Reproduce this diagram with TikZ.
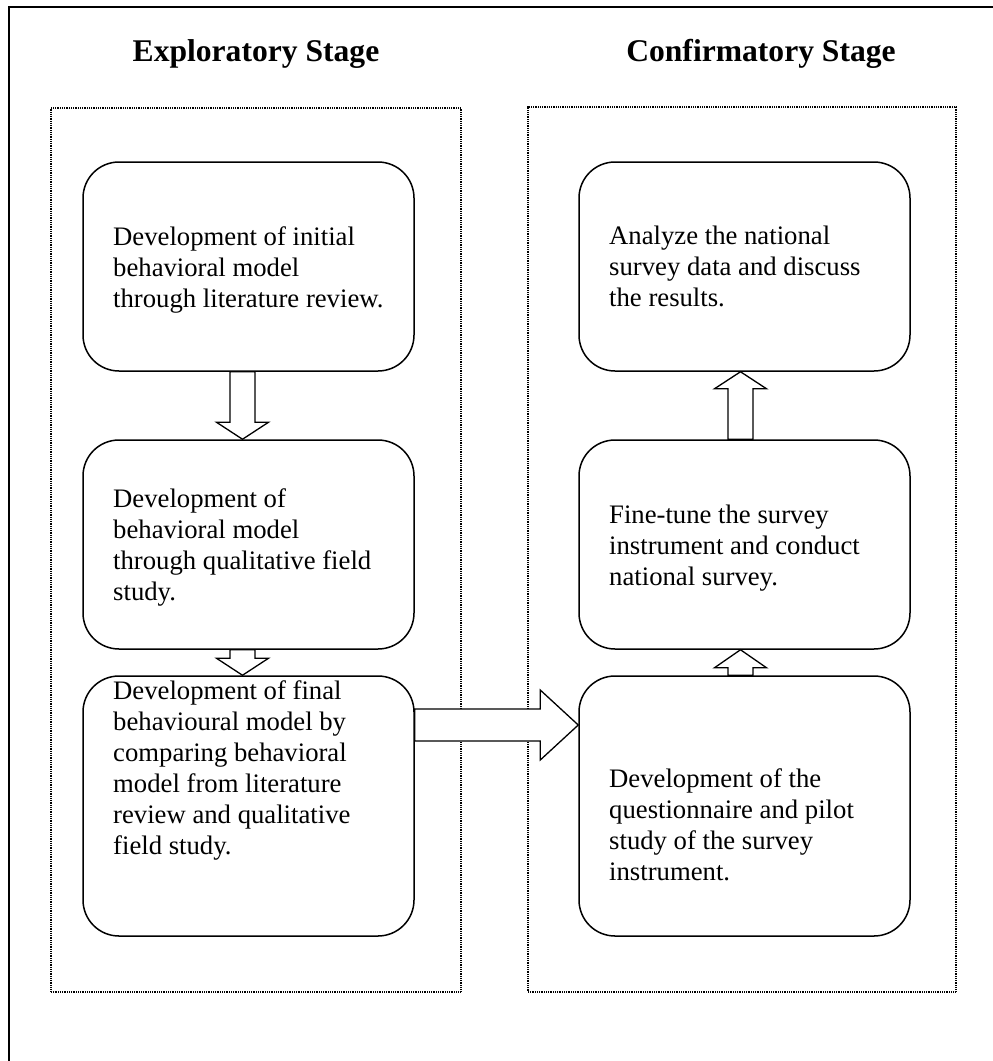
\documentclass[tikz,border=0pt]{standalone}
\usepackage{fontspec}
\setmainfont{Liberation Serif}
\usetikzlibrary{calc}

% vertical block arrow: #1 source anchor, #2 tip anchor, #3 x shift, #4 signed head length
\newcommand{\vblockarrow}[4]{%
  \draw[blockarrow] let \p1=($(#1)+(#3,0)$), \p2=($(#2)+(#3,0)$) in
    (\x1-12.5pt,\y1) -- (\x1-12.5pt,\y2+#4) -- (\x1-26pt,\y2+#4) -- (\x2,\y2)
    -- (\x1+26pt,\y2+#4) -- (\x1+12.5pt,\y2+#4) -- (\x1+12.5pt,\y1) -- cycle;}

\begin{document}
\begin{tikzpicture}[x=1pt,y=-1pt,
  stagebox/.style={draw, dash pattern=on 1pt off 0.8pt, line width=1.3pt, inner sep=0pt},
  stepbox/.style={draw, line width=1.5pt, rounded corners=36pt, inner sep=0pt,
    minimum width=331pt},
  steptext/.style={anchor=north west, inner sep=0pt, align=left,
    font=\fontsize{26.7}{31}\selectfont},
  stagetitle/.style={anchor=base, inner sep=0pt,
    font=\bfseries\fontsize{31.6}{36}\selectfont},
  blockarrow/.style={draw, fill=white, line width=1.3pt, line join=miter}]

\useasboundingbox (0,0) rectangle (993,1061);

% outer frame (top and left edges)
\draw[line width=1.8pt] (9,1061) -- (9,7) -- (993,7);

% stage headings
\node[stagetitle] (titleL) at (256,61) {Exploratory Stage};
\node[stagetitle] (titleR) at (761,61) {Confirmatory Stage};

% dotted stage frames
\node[stagebox, minimum width=410pt, minimum height=884pt] (stageL) at (256,550) {};
\node[stagebox, minimum width=428pt, minimum height=885pt] (stageR) at (742,549.5) {};

% exploratory steps
\node[stepbox, minimum height=209pt] (L1) at (248.5,266.5) {};
\node[stepbox, minimum height=209pt] (L2) at (248.5,544.5) {};
\node[stepbox, minimum height=260pt] (L3) at (248.5,806) {};

% confirmatory steps
\node[stepbox, minimum height=209pt] (R1) at (744.5,266.5) {};
\node[stepbox, minimum height=209pt] (R2) at (744.5,544.5) {};
\node[stepbox, minimum height=260pt] (R3) at (744.5,806) {};

% step texts
\node[steptext] (tL1) at (113,226) {Development of initial\\behavioral model\\through literature review.};
\node[steptext] (tL2) at (113,488) {Development of\\behavioral model\\through qualitative field\\study.};
\node[steptext] (tL3) at (113,680) {Development of final\\behavioural model by\\comparing behavioral\\model from literature\\review and qualitative\\field study.};
\node[steptext] (tR1) at (609,226) {Analyze the national\\survey data and discuss\\the results.};
\node[steptext] (tR2) at (609,505) {Fine-tune the survey\\instrument and conduct\\national survey.};
\node[steptext] (tR3) at (609,768) {Development of the\\questionnaire and pilot\\study of the survey\\instrument.};

% block arrows down the exploratory stage
\vblockarrow{L1.south}{L2.north}{-6}{17pt}
\vblockarrow{L2.south}{L3.north}{-6}{17pt}

% block arrows up the confirmatory stage
\vblockarrow{R2.north}{R1.south}{-4}{-17pt}
\vblockarrow{R3.north}{R2.south}{-4}{-18pt}

% block arrow linking the two stages
\draw[blockarrow] let \p1=($(L3.east)+(0,-81)$), \p2=($(R3.west)+(0,-81)$) in
  (\x1,\y1+16pt) -- (\x2-38pt,\y1+16pt) -- (\x2-38pt,\y1+35pt) -- (\x2,\y2)
  -- (\x2-38pt,\y1-35pt) -- (\x2-38pt,\y1-16pt) -- (\x1,\y1-16pt) -- cycle;

\end{tikzpicture}
\end{document}
